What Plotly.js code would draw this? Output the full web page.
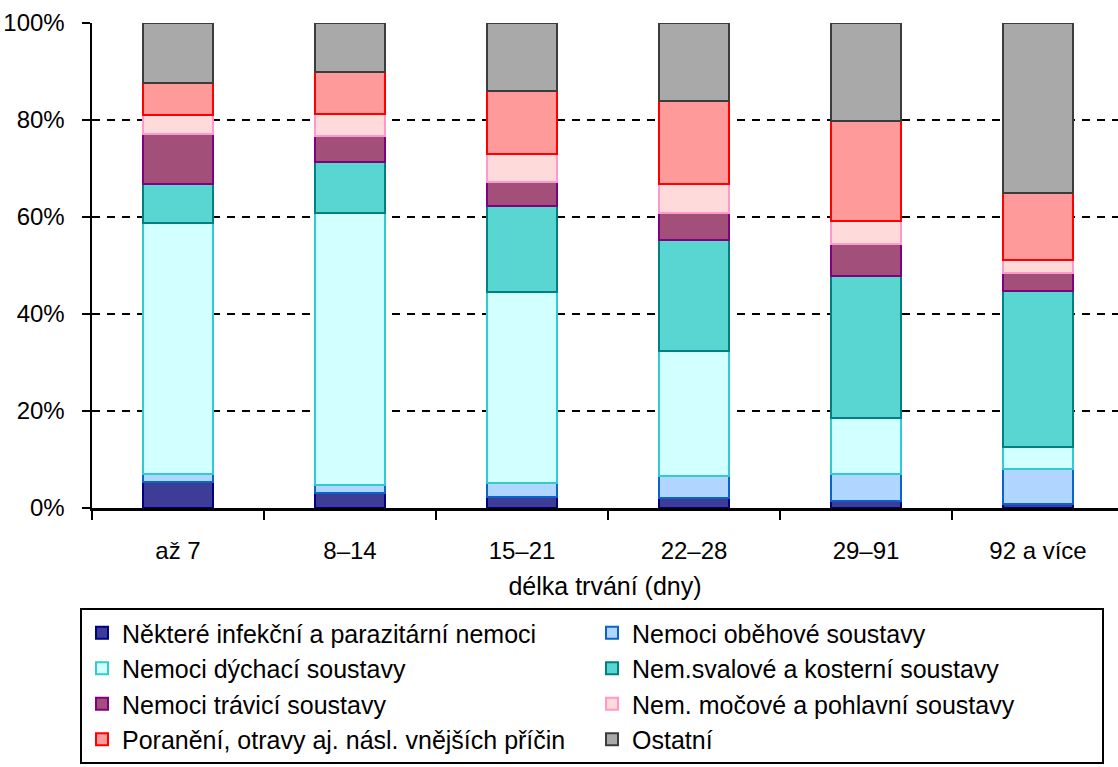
<!DOCTYPE html>
<html>
<head>
<meta charset="utf-8">
<script src="https://cdn.plot.ly/plotly-3.0.1.min.js"></script>
<style>html,body{margin:0;padding:0;background:#fff;}#chart{width:1118px;height:767px;}</style>
</head>
<body>
<div id="chart"></div>
<script>
var categories = ["až 7", "8–14", "15–21", "22–28", "29–91", "92 a více"];

var seriesNames = [
  "Některé infekční a parazitární nemoci",
  "Nemoci oběhové soustavy",
  "Nemoci dýchací soustavy",
  "Nem.svalové a kosterní soustavy",
  "Nemoci trávicí soustavy",
  "Nem. močové a pohlavní soustavy",
  "Poranění, otravy aj. násl. vnějších příčin",
  "Ostatní"
];

var infekcni  = [5.4, 3.0, 2.3, 2.0, 1.4, 0.8];
var obehove   = [1.7, 1.7, 2.8, 4.5, 5.6, 7.2];
var dychaci   = [51.7, 56.1, 39.4, 25.9, 11.5, 4.6];
var svalove   = [8.1, 10.6, 17.8, 22.9, 29.3, 32.1];
var travici   = [10.2, 5.3, 5.0, 5.6, 6.6, 3.8];
var mocove    = [4.0, 4.5, 5.6, 6.0, 4.8, 2.6];
var poraneni  = [6.5, 8.7, 13.1, 17.0, 20.5, 13.9];
var ostatni   = [12.4, 10.1, 14.0, 16.1, 20.3, 35.0];

var seriesValues = [infekcni, obehove, dychaci, svalove, travici, mocove, poraneni, ostatni];

var fillColors = ["#3d3d98", "#b0d6ff", "#d2ffff", "#5ad6d2", "#a24f7a", "#ffdada", "#ff9a9a", "#a9a9a9"];
var lineColors = ["#000080", "#0a64cc", "#33cccc", "#008080", "#800080", "#ff99cc", "#ff0000", "#3c3c3c"];

var FONT = '"Liberation Sans", Arial, sans-serif';

var traces = seriesNames.map(function (name, i) {
  return {
    type: "bar",
    name: name,
    x: categories,
    y: seriesValues[i],
    marker: { color: fillColors[i], line: { color: lineColors[i], width: 2 } },
    hoverinfo: "none"
  };
});

var layout = {
  width: 1118,
  height: 767,
  paper_bgcolor: "#ffffff",
  plot_bgcolor: "#ffffff",
  barmode: "stack",
  bargap: 0.593,
  margin: { l: 92, r: 0, t: 23, b: 259, pad: 0 },
  font: { family: FONT, size: 24, color: "#000" },
  showlegend: true,
  xaxis: {
    type: "category",
    range: [-0.5, 5.465],
    showline: true,
    linecolor: "#000",
    linewidth: 2.5,
    ticks: "outside",
    tickson: "boundaries",
    ticklen: 9,
    tickwidth: 2,
    tickcolor: "#000",
    ticklabelstandoff: 20,
    tickfont: { family: FONT, size: 24, color: "#000" },
    showgrid: false,
    zeroline: false,
    title: { text: "délka trvání (dny)", font: { family: FONT, size: 25, color: "#000" }, standoff: 14 }
  },
  yaxis: {
    range: [0, 100],
    dtick: 20,
    tick0: 0,
    ticksuffix: "%",
    showline: true,
    linecolor: "#000",
    linewidth: 2.5,
    ticks: "outside",
    ticklen: 8,
    tickwidth: 2,
    tickcolor: "#000",
    ticklabelstandoff: 12,
    tickfont: { family: FONT, size: 24, color: "#000" },
    showgrid: true,
    gridcolor: "#000",
    gridwidth: 2.5,
    griddash: "8px,7px",
    zeroline: false
  },
  legend: {
    orientation: "h",
    traceorder: "normal",
    xref: "container",
    yref: "container",
    x: 80 / 1118,
    xanchor: "left",
    y: 1 - 608 / 767,
    yanchor: "top",
    bgcolor: "#ffffff",
    bordercolor: "#000",
    borderwidth: 2,
    entrywidth: 465,
    entrywidthmode: "pixels",
    itemwidth: 30,
    font: { family: FONT, size: 25, color: "#000" }
  }
};

Plotly.newPlot("chart", traces, layout, { staticPlot: true, displayModeBar: false });
</script>
</body>
</html>
